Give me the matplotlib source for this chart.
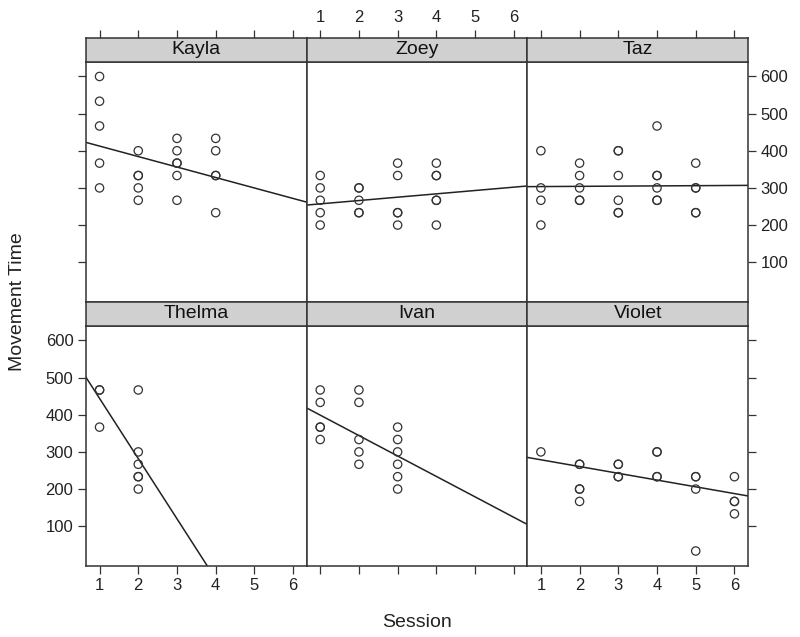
import matplotlib
matplotlib.use("Agg")
import matplotlib.pyplot as plt

plt.rcParams['font.family'] = ['Liberation Sans', 'DejaVu Sans']

# 数据：每个被试的 Session 与 Movement Time（重叠点重复列出）
kayla_session = [1, 1, 1, 1, 1, 2, 2, 2, 2, 2, 3, 3, 3, 3, 3, 3, 4, 4, 4, 4, 4]
kayla_time = [600, 533.3, 466.7, 366.7, 300,
              400, 333.3, 333.3, 300, 266.7,
              433.3, 400, 366.7, 366.7, 333.3, 266.7,
              433.3, 400, 333.3, 333.3, 233.3]

zoey_session = [1, 1, 1, 1, 1, 2, 2, 2, 2, 2, 3, 3, 3, 3, 3, 4, 4, 4, 4, 4, 4]
zoey_time = [333.3, 300, 266.7, 233.3, 200,
             300, 300, 266.7, 233.3, 233.3,
             366.7, 333.3, 233.3, 233.3, 200,
             366.7, 333.3, 333.3, 266.7, 266.7, 200]

taz_session = [1, 1, 1, 1, 2, 2, 2, 2, 2, 3, 3, 3, 3, 3, 3,
               4, 4, 4, 4, 4, 4, 5, 5, 5, 5, 5]
taz_time = [400, 300, 266.7, 200,
            366.7, 333.3, 300, 266.7, 266.7,
            400, 400, 333.3, 266.7, 233.3, 233.3,
            466.7, 333.3, 333.3, 300, 266.7, 266.7,
            366.7, 300, 300, 233.3, 233.3]

thelma_session = [1, 1, 1, 2, 2, 2, 2, 2, 2]
thelma_time = [466.7, 466.7, 366.7,
               466.7, 300, 266.7, 233.3, 233.3, 200]

ivan_session = [1, 1, 1, 1, 1, 2, 2, 2, 2, 2, 3, 3, 3, 3, 3, 3]
ivan_time = [466.7, 433.3, 366.7, 366.7, 333.3,
             466.7, 433.3, 333.3, 300, 266.7,
             366.7, 333.3, 300, 266.7, 233.3, 200]

violet_session = [1, 2, 2, 2, 2, 2, 3, 3, 3, 3, 4, 4, 4, 4,
                  5, 5, 5, 5, 6, 6, 6, 6]
violet_time = [300,
               266.7, 266.7, 200, 200, 166.7,
               266.7, 266.7, 233.3, 233.3,
               300, 300, 233.3, 233.3,
               233.3, 233.3, 200, 33.3,
               233.3, 166.7, 166.7, 133.3]

# 面板顺序（从上到下、从左到右）
names = ['Kayla', 'Zoey', 'Taz', 'Thelma', 'Ivan', 'Violet']
sessions = [kayla_session, zoey_session, taz_session,
            thelma_session, ivan_session, violet_session]
times = [kayla_time, zoey_time, taz_time,
         thelma_time, ivan_time, violet_time]

# 每个面板里的拟合直线（截距、斜率）
intercepts = [440.8, 248, 303, 606, 454, 297]
slopes = [-28.2, 9.0, 0.6, -162, -55, -18.2]

x_ticks = [1, 2, 3, 4, 5, 6]
y_ticks = [100, 200, 300, 400, 500, 600]
xlim = (0.65, 6.35)
ylim = (-6.3, 639.7)

fig = plt.figure(figsize=(8, 6.37), dpi=100)

# 面板位置（图坐标）
left = 0.1075
pw = 0.27583
ph = 0.37677
sh = 0.03768
row_bottoms = [0.52637, 0.11193]
edge = '#333333'

for i in range(6):
    r, c = divmod(i, 3)
    x0 = left + c * pw
    y0 = row_bottoms[r]
    ax = fig.add_axes([x0, y0, pw, ph])
    st = fig.add_axes([x0, y0 + ph, pw, sh])

    # 散点和直线
    ax.scatter(sessions[i], times[i], s=36, facecolors='none',
               edgecolors=edge, linewidths=0.9, zorder=3)
    xs = [xlim[0], xlim[1]]
    ax.plot(xs, [intercepts[i] + slopes[i] * x for x in xs],
            color='#222222', lw=1.1, zorder=2)
    ax.set_xlim(xlim)
    ax.set_ylim(ylim)

    # 标题条
    st.set_facecolor('#d0d0d0')
    st.set_xlim(xlim)
    st.set_yticks([])
    st.text(0.5, 0.5, names[i], transform=st.transAxes, ha='center',
            va='center', fontsize=14, color='#111111')

    for a in (ax, st):
        for sp in a.spines.values():
            sp.set_color(edge)
            sp.set_linewidth(1.1)
        a.tick_params(direction='out', length=6, width=0.9, color=edge,
                      labelsize=12, labelcolor='#222222', pad=3)

    # x 轴刻度：交替显示在下方/上方
    ax.set_xticks(x_ticks)
    st.set_xticks(x_ticks)
    if r == 0:
        ax.tick_params(axis='x', bottom=False, labelbottom=False)
        st.tick_params(axis='x', top=True, bottom=False, labelbottom=False,
                       labeltop=(c == 1))
    else:
        st.tick_params(axis='x', bottom=False, labelbottom=False)
        ax.tick_params(axis='x', labelbottom=(c != 1))

    # y 轴刻度：左列和右列
    ax.set_yticks(y_ticks)
    ax.tick_params(axis='y', left=(c == 0), right=(c == 2),
                   labelleft=(c == 0 and r == 1),
                   labelright=(c == 2 and r == 0))

fig.text(0.022, 0.5264, 'Movement Time', rotation=90, ha='center',
         va='center', fontsize=14, color='#222222')
fig.text(0.5213, 0.022, 'Session', ha='center', va='center',
         fontsize=14, color='#222222')

plt.savefig('out.png', dpi=100)
